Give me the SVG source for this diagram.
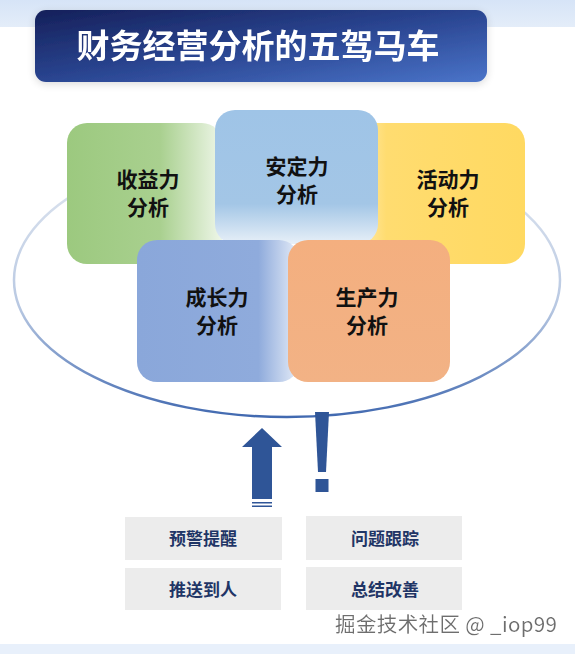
<svg xmlns="http://www.w3.org/2000/svg" width="575" height="654" viewBox="0 0 575 654">
<defs>
<linearGradient id="bgTop" x1="0" y1="0" x2="0" y2="1">
<stop offset="0" stop-color="#d6e4f7"/><stop offset="1" stop-color="#e4edf9"/>
</linearGradient>
<linearGradient id="title" x1="0" y1="0" x2="1" y2="1">
<stop offset="0" stop-color="#15205a"/><stop offset="0.5" stop-color="#2a4591"/><stop offset="1" stop-color="#4a74c9"/>
</linearGradient>
<linearGradient id="ell" x1="0" y1="0" x2="0" y2="1">
<stop offset="0" stop-color="#e6ebf2"/><stop offset="0.6" stop-color="#b8c8e2"/><stop offset="1" stop-color="#4169b0"/>
</linearGradient>
<linearGradient id="gGreen" x1="0" y1="0" x2="1" y2="0">
<stop offset="0" stop-color="#9cc97f"/><stop offset="0.6" stop-color="#a9d08f"/><stop offset="1" stop-color="#eef6e8"/>
</linearGradient>
<linearGradient id="gBlue1" x1="0" y1="0" x2="0" y2="1">
<stop offset="0" stop-color="#9fc4e7"/><stop offset="0.7" stop-color="#a3c6e6"/><stop offset="1" stop-color="#e8f0f8"/>
</linearGradient>
<linearGradient id="gYellow" x1="0" y1="0" x2="1" y2="0">
<stop offset="0" stop-color="#fff3cf"/><stop offset="0.25" stop-color="#ffdc70"/><stop offset="1" stop-color="#ffd961"/>
</linearGradient>
<linearGradient id="gBlue2" x1="0" y1="0" x2="1" y2="0">
<stop offset="0" stop-color="#8aa7da"/><stop offset="0.75" stop-color="#8fabdc"/><stop offset="1" stop-color="#e6edf8"/>
</linearGradient>
<linearGradient id="gOrange" x1="0" y1="0" x2="0" y2="1">
<stop offset="0" stop-color="#f4af7f"/><stop offset="1" stop-color="#f2b285"/>
</linearGradient>
<filter id="sh" x="-10%" y="-20%" width="120%" height="150%">
<feGaussianBlur in="SourceAlpha" stdDeviation="4"/><feOffset dy="2"/>
<feComponentTransfer><feFuncA type="linear" slope="0.15"/></feComponentTransfer>
<feMerge><feMergeNode/><feMergeNode in="SourceGraphic"/></feMerge>
</filter>
<filter id="wm" x="-5%" y="-20%" width="110%" height="140%">
<feMorphology in="SourceAlpha" operator="dilate" radius="1.2" result="d"/>
<feFlood flood-color="#ffffff"/><feComposite in2="d" operator="in"/>
<feMerge><feMergeNode/><feMergeNode in="SourceGraphic"/></feMerge>
</filter>
</defs>
<style>
.lbl{font-family:"Noto Sans CJK SC","Noto Sans",sans-serif;font-weight:700;font-size:21px;fill:#111;text-anchor:middle}
.tag{font-family:"Noto Sans CJK SC","Noto Sans",sans-serif;font-weight:700;font-size:17px;fill:#1f3566;text-anchor:middle}
.gbox{fill:#ececec}
.dk{fill:#2f5597}
</style>
<rect x="0" y="0" width="575" height="654" fill="#ffffff"/>
<rect x="0" y="0" width="575" height="27" fill="url(#bgTop)"/>
<rect x="0" y="644" width="575" height="10" fill="#e8f0fb"/>

<g id="title-box" filter="url(#sh)">
<rect x="35" y="10" width="452" height="72" rx="11" fill="url(#title)"/>
<text x="258" y="58" font-family="'Noto Sans CJK SC','Noto Sans',sans-serif" font-weight="700" font-size="33" fill="#ffffff" text-anchor="middle">财务经营分析的五驾马车</text>
</g>

<g id="ellipse">
<ellipse cx="287" cy="280" rx="273" ry="137" fill="none" stroke="url(#ell)" stroke-width="2.5"/>
</g>

<g id="node-shouyi">
<rect x="67" y="123" width="155" height="141" rx="20" fill="url(#gGreen)"/>
<text class="lbl" x="148" y="187">收益力</text>
<text class="lbl" x="148" y="215">分析</text>
</g>
<g id="node-huodong">
<rect x="340" y="123" width="185" height="141" rx="20" fill="url(#gYellow)"/>
<text class="lbl" x="448" y="187">活动力</text>
<text class="lbl" x="448" y="215">分析</text>
</g>
<g id="node-anding">
<rect x="215" y="110" width="163" height="134" rx="20" fill="url(#gBlue1)"/>
<text class="lbl" x="297" y="174">安定力</text>
<text class="lbl" x="297" y="202">分析</text>
</g>
<g id="node-chengzhang">
<rect x="137" y="240" width="162" height="142" rx="20" fill="url(#gBlue2)"/>
<text class="lbl" x="217" y="305">成长力</text>
<text class="lbl" x="217" y="333">分析</text>
</g>
<g id="node-shengchan">
<rect x="288" y="240" width="162" height="142" rx="20" fill="url(#gOrange)"/>
<text class="lbl" x="367" y="305">生产力</text>
<text class="lbl" x="367" y="333">分析</text>
</g>

<g id="connectors">
<g id="up-arrow" class="dk">
<polygon points="262,428 282,447 272,447 272,499 252,499 252,447 242,447"/>
<rect x="252" y="502" width="20" height="1.5"/>
<rect x="252" y="505.5" width="20" height="1.5"/>
</g>
<g id="exclaim" class="dk">
<polygon points="315,412 329,412 326,472 318,472"/>
<rect x="315.5" y="479" width="13" height="13"/>
</g>
</g>

<g id="tag-yujing"><rect class="gbox" x="125" y="517" width="157" height="43"/><text class="tag" x="203" y="545">预警提醒</text></g>
<g id="tag-wenti"><rect class="gbox" x="306" y="516" width="156" height="44"/><text class="tag" x="385" y="545">问题跟踪</text></g>
<g id="tag-tuisong"><rect class="gbox" x="125" y="568" width="156" height="42"/><text class="tag" x="203" y="596">推送到人</text></g>
<g id="tag-zongjie"><rect class="gbox" x="306" y="567" width="156" height="43"/><text class="tag" x="385" y="596">总结改善</text></g>

<g id="watermark" filter="url(#wm)">
<text x="335" y="632" textLength="222" lengthAdjust="spacing" font-family="'Noto Sans CJK SC','Noto Sans',sans-serif" font-size="20.5" fill="#6e6e6e">掘金技术社区 @ _iop99</text>
</g>
</svg>
